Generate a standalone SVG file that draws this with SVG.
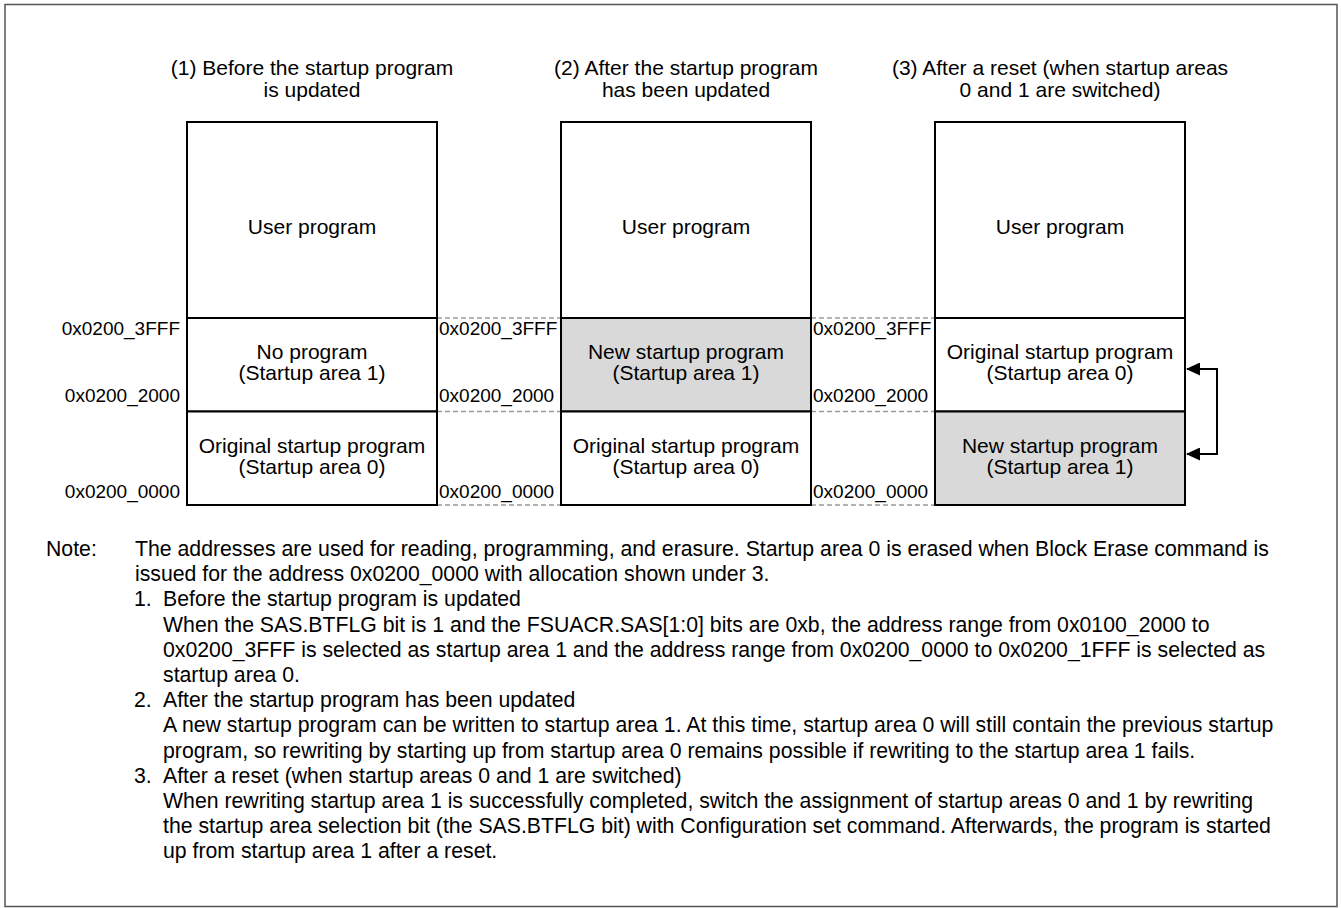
<svg xmlns="http://www.w3.org/2000/svg" width="1341" height="908" viewBox="0 0 1341 908">
<style>
text{font-family:"Liberation Sans",Arial,sans-serif;fill:#000}
.t{font-size:21px;text-anchor:middle}
.a{font-size:19px}
.ar{font-size:19px;text-anchor:end}
.n{font-size:21.25px}
.box{fill:#fff;stroke:#000;stroke-width:2}
.g{fill:#d9d9d9;stroke:#000;stroke-width:2}
.dash{stroke:#999;stroke-width:1.5;stroke-dasharray:5 3;fill:none}
.conn{stroke:#000;stroke-width:2;fill:none}
</style>
<defs>
<marker id="ah" markerWidth="14" markerHeight="13" refX="13" refY="6.5" orient="auto-start-reverse" markerUnits="userSpaceOnUse">
<path d="M0,0 L14,6.5 L0,13 Z" fill="#000"/>
</marker>
</defs>
<rect x="5" y="4.5" width="1332" height="902" fill="#fff" stroke="#555" stroke-width="1.5"/>

<g id="titles">
<text class="t" x="312" y="75">(1) Before the startup program</text>
<text class="t" x="312" y="97">is updated</text>
<text class="t" x="686" y="75">(2) After the startup program</text>
<text class="t" x="686" y="97">has been updated</text>
<text class="t" x="1060" y="75">(3) After a reset (when startup areas</text>
<text class="t" x="1060" y="97">0 and 1 are switched)</text>
</g>

<g id="connectors">
<path class="dash" d="M437,318 H561 M437,411.5 H561 M437,505 H561"/>
<path class="dash" d="M811,318 H935 M811,411.5 H935 M811,505 H935"/>
<path class="conn" d="M1187,369 H1217 V454 H1187" marker-start="url(#ah)" marker-end="url(#ah)"/>
</g>

<g id="col1">
<rect class="box" x="187" y="122" width="250" height="196"/>
<text class="t" x="312" y="234">User program</text>
<rect class="box" x="187" y="318" width="250" height="93.5"/>
<text class="t" x="312" y="359">No program</text>
<text class="t" x="312" y="380">(Startup area 1)</text>
<rect class="box" x="187" y="411.5" width="250" height="93.5"/>
<text class="t" x="312" y="453">Original startup program</text>
<text class="t" x="312" y="474">(Startup area 0)</text>
</g>

<g id="col2">
<rect class="box" x="561" y="122" width="250" height="196"/>
<text class="t" x="686" y="234">User program</text>
<rect class="g" x="561" y="318" width="250" height="93.5"/>
<text class="t" x="686" y="359">New startup program</text>
<text class="t" x="686" y="380">(Startup area 1)</text>
<rect class="box" x="561" y="411.5" width="250" height="93.5"/>
<text class="t" x="686" y="453">Original startup program</text>
<text class="t" x="686" y="474">(Startup area 0)</text>
</g>

<g id="col3">
<rect class="box" x="935" y="122" width="250" height="196"/>
<text class="t" x="1060" y="234">User program</text>
<rect class="box" x="935" y="318" width="250" height="93.5"/>
<text class="t" x="1060" y="359">Original startup program</text>
<text class="t" x="1060" y="380">(Startup area 0)</text>
<rect class="g" x="935" y="411.5" width="250" height="93.5"/>
<text class="t" x="1060" y="453">New startup program</text>
<text class="t" x="1060" y="474">(Startup area 1)</text>
</g>

<g id="addresses">
<text class="ar" x="180" y="335">0x0200_3FFF</text>
<text class="ar" x="180" y="402">0x0200_2000</text>
<text class="ar" x="180" y="498">0x0200_0000</text>
<text class="a" x="439" y="335">0x0200_3FFF</text>
<text class="a" x="439" y="402">0x0200_2000</text>
<text class="a" x="439" y="498">0x0200_0000</text>
<text class="a" x="813" y="335">0x0200_3FFF</text>
<text class="a" x="813" y="402">0x0200_2000</text>
<text class="a" x="813" y="498">0x0200_0000</text>
</g>

<g id="note">
<text class="n" x="46" y="556">Note:</text>
<text class="n" x="135" y="556">The addresses are used for reading, programming, and erasure. Startup area 0 is erased when Block Erase command is</text>
<text class="n" x="135" y="581.2">issued for the address 0x0200_0000 with allocation shown under 3.</text>
<text class="n" x="134" y="606.4">1.</text>
<text class="n" x="163" y="606.4">Before the startup program is updated</text>
<text class="n" x="163" y="631.6">When the SAS.BTFLG bit is 1 and the FSUACR.SAS[1:0] bits are 0xb, the address range from 0x0100_2000 to</text>
<text class="n" x="163" y="656.8">0x0200_3FFF is selected as startup area 1 and the address range from 0x0200_0000 to 0x0200_1FFF is selected as</text>
<text class="n" x="163" y="682">startup area 0.</text>
<text class="n" x="134" y="707.2">2.</text>
<text class="n" x="163" y="707.2">After the startup program has been updated</text>
<text class="n" x="163" y="732.4">A new startup program can be written to startup area 1. At this time, startup area 0 will still contain the previous startup</text>
<text class="n" x="163" y="757.6">program, so rewriting by starting up from startup area 0 remains possible if rewriting to the startup area 1 fails.</text>
<text class="n" x="134" y="782.8">3.</text>
<text class="n" x="163" y="782.8">After a reset (when startup areas 0 and 1 are switched)</text>
<text class="n" x="163" y="808">When rewriting startup area 1 is successfully completed, switch the assignment of startup areas 0 and 1 by rewriting</text>
<text class="n" x="163" y="833.2">the startup area selection bit (the SAS.BTFLG bit) with Configuration set command. Afterwards, the program is started</text>
<text class="n" x="163" y="858.4">up from startup area 1 after a reset.</text>
</g>
</svg>
